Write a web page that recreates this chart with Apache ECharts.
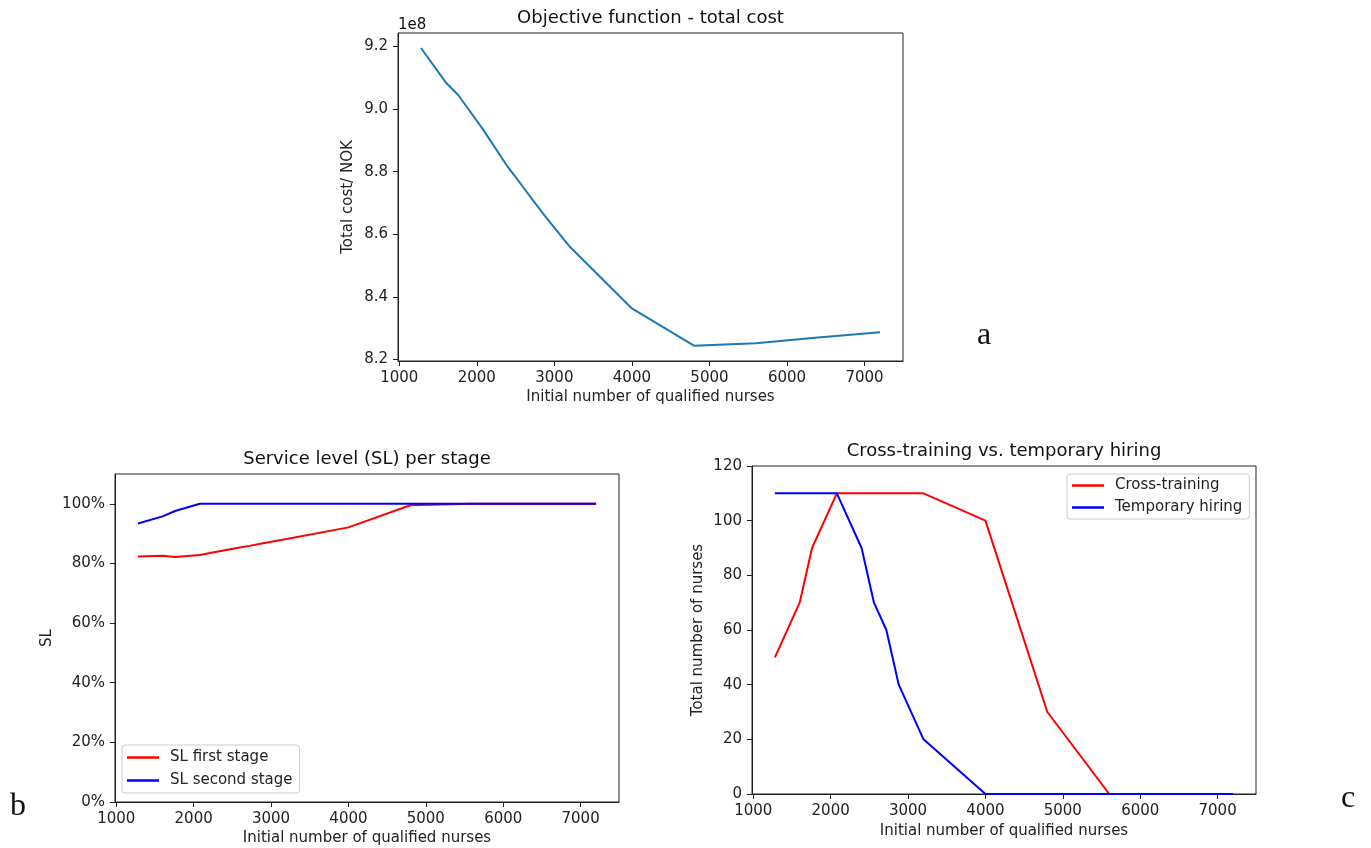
<!DOCTYPE html>
<html>
<head>
<meta charset="utf-8">
<script src="https://cdn.jsdelivr.net/npm/echarts@6/dist/echarts.min.js"></script>
<style>
html,body{margin:0;padding:0;background:#fff;}
#chart{width:1371px;height:848px;}
</style>
</head>
<body>
<div id="chart"></div>
<script>
// ---- data ----
const nurses = [1280, 1600, 1760, 2080, 2400, 2560, 2720, 2880, 3200, 4000, 4800, 5600, 6400, 7200];
const totalCost = [9.195e8, 9.085e8, 9.045e8, 8.935e8, 8.815e8, 8.763e8, 8.71e8, 8.658e8, 8.56e8, 8.363e8, 8.244e8, 8.252e8, 8.27e8, 8.287e8];
const slFirst = [0.823, 0.826, 0.822, 0.828, 0.844, 0.852, 0.859, 0.867, 0.882, 0.921, 0.995, 1.0, 1.0, 1.0];
const slSecond = [0.934, 0.958, 0.976, 1.0, 1.0, 1.0, 1.0, 1.0, 1.0, 1.0, 1.0, 1.0, 1.0, 1.0];
const crossTraining = [50, 70, 90, 110, 110, 110, 110, 110, 110, 100, 30, 0, 0, 0];
const tempHiring = [110, 110, 110, 110, 90, 70, 60, 40, 20, 0, 0, 0, 0, 0];
const xTicks = [1000, 2000, 3000, 4000, 5000, 6000, 7000];
const costTicks = [8.2e8, 8.4e8, 8.6e8, 8.8e8, 9.0e8, 9.2e8];
const slTicks = [0, 0.2, 0.4, 0.6, 0.8, 1.0];

const FONT = '"DejaVu Sans", sans-serif';
const TXT = '#222';
const pairs = ys => nurses.map((x, i) => [x, ys[i]]);

function xAxis(gi, gap) {
  return {
    type: 'value', gridIndex: gi, min: 984, max: 7496,
    axisLine: {show: true, onZero: false, lineStyle: {color: '#222', width: 1}},
    axisTick: {show: true, length: 5, customValues: xTicks, lineStyle: {color: '#222'}},
    axisLabel: {customValues: xTicks, margin: 10, color: TXT, fontSize: 15, fontFamily: FONT,
                formatter: v => String(Math.round(v))},
    splitLine: {show: false},
    name: 'Initial number of qualified nurses', nameLocation: 'middle', nameGap: gap,
    nameTextStyle: {color: TXT, fontSize: 15, fontFamily: FONT}
  };
}
function yAxisBase(gi, name, gap) {
  return {
    type: 'value', gridIndex: gi,
    axisLine: {show: true, onZero: false, lineStyle: {color: '#222', width: 1}},
    axisTick: {show: true, length: 5, lineStyle: {color: '#222'}},
    axisLabel: {margin: 10, color: TXT, fontSize: 15, fontFamily: FONT},
    splitLine: {show: false},
    name: name, nameLocation: 'middle', nameGap: gap, nameRotate: 90,
    nameTextStyle: {color: TXT, fontSize: 15, fontFamily: FONT}
  };
}

const yA = yAxisBase(0, 'Total cost/ NOK', 42);
yA.min = 8.195e8; yA.max = 9.243e8;
yA.axisTick.customValues = costTicks;
yA.axisLabel.customValues = costTicks;
yA.axisLabel.formatter = v => (v / 1e8).toFixed(1);

const yB = yAxisBase(1, 'SL', 60);
yB.min = 0; yB.max = 1.1;
yB.axisTick.customValues = slTicks;
yB.axisLabel.customValues = slTicks;
yB.axisLabel.formatter = v => Math.round(v * 100) + '%';

const yC = yAxisBase(2, 'Total number of nurses', 46);
yC.min = 0; yC.max = 120; yC.interval = 20;

function txt(text, x, y, size, align, family) {
  return {
    type: 'text', x: x, y: y, silent: true,
    style: {
      text: text, fill: '#111', fontSize: size, fontFamily: family || FONT,
      textAlign: align || 'center', textVerticalAlign: 'middle',
      align: align || 'center', verticalAlign: 'middle'
    }
  };
}

const legendCommon = {
  orient: 'vertical', itemWidth: 32, itemHeight: 2.5, icon: 'rect',
  backgroundColor: 'rgba(255,255,255,0.8)', borderColor: '#ccc', borderWidth: 1, borderRadius: 3,
  textStyle: {color: TXT, fontSize: 15, fontFamily: FONT, lineHeight: 17, padding: [0, 0, 0, 6]}
};

const option = {
  animation: false,
  backgroundColor: '#fff',
  grid: [
    {left: 398, top: 33, width: 505, height: 328, show: true, borderColor: '#222', borderWidth: 1, backgroundColor: 'transparent'},
    {left: 115, top: 474, width: 504, height: 328, show: true, borderColor: '#222', borderWidth: 1, backgroundColor: 'transparent'},
    {left: 752, top: 466, width: 504, height: 328, show: true, borderColor: '#222', borderWidth: 1, backgroundColor: 'transparent'}
  ],
  xAxis: [xAxis(0, 29), xAxis(1, 29), xAxis(2, 30)],
  yAxis: [yA, yB, yC],
  legend: [
    Object.assign({}, legendCommon, {data: ['SL first stage', 'SL second stage'], left: 122, top: 745, padding: [4, 7, 4, 5], itemGap: 6}),
    Object.assign({}, legendCommon, {data: ['Cross-training', 'Temporary hiring'], left: 1067, top: 474, padding: [3, 7, 3, 5], itemGap: 5})
  ],
  series: [
    {name: 'Total cost', type: 'line', xAxisIndex: 0, yAxisIndex: 0, data: pairs(totalCost), symbol: 'none',
     lineStyle: {color: '#1f77b4', width: 2}, itemStyle: {color: '#1f77b4'}},
    {name: 'SL first stage', type: 'line', xAxisIndex: 1, yAxisIndex: 1, data: pairs(slFirst), symbol: 'none',
     lineStyle: {color: '#ff0000', width: 2}, itemStyle: {color: '#ff0000'}},
    {name: 'SL second stage', type: 'line', xAxisIndex: 1, yAxisIndex: 1, data: pairs(slSecond), symbol: 'none',
     lineStyle: {color: '#0000ff', width: 2}, itemStyle: {color: '#0000ff'}},
    {name: 'Cross-training', type: 'line', xAxisIndex: 2, yAxisIndex: 2, data: pairs(crossTraining), symbol: 'none',
     lineStyle: {color: '#ff0000', width: 2}, itemStyle: {color: '#ff0000'}},
    {name: 'Temporary hiring', type: 'line', xAxisIndex: 2, yAxisIndex: 2, data: pairs(tempHiring), symbol: 'none',
     lineStyle: {color: '#0000ff', width: 2}, itemStyle: {color: '#0000ff'}}
  ],
  graphic: [
    txt('Objective function - total cost', 650.5, 18, 18),
    txt('Service level (SL) per stage', 367, 459, 18),
    txt('Cross-training vs. temporary hiring', 1004, 451, 18),
    txt('1e8', 398, 25, 15, 'left'),
    txt('a', 984, 336, 32, 'center', '"Liberation Serif", serif'),
    txt('b', 18, 807, 32, 'center', '"Liberation Serif", serif'),
    txt('c', 1348, 799, 32, 'center', '"Liberation Serif", serif')
  ]
};

const chart = echarts.init(document.getElementById('chart'), null, {renderer: 'canvas'});
chart.setOption(option);
</script>
</body>
</html>
